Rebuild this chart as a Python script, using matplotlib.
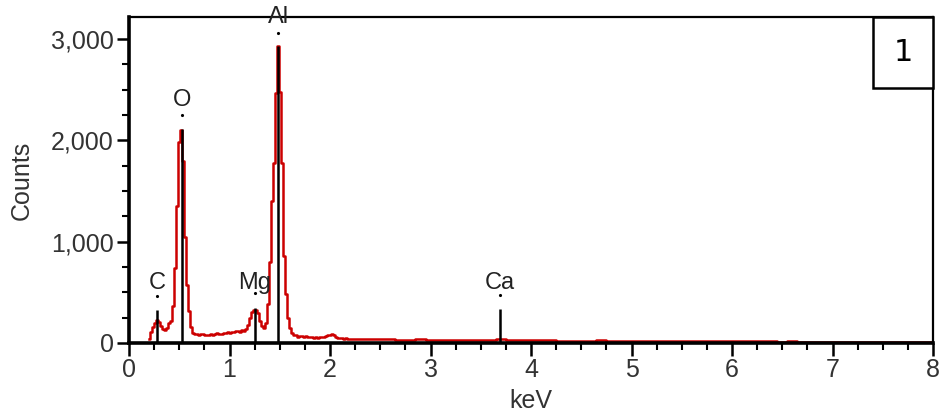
import matplotlib
matplotlib.use("Agg")
import matplotlib.pyplot as plt
from matplotlib.ticker import MultipleLocator
from matplotlib.patches import Rectangle
import numpy as np

plt.rcParams['font.family'] = ['Liberation Sans', 'DejaVu Sans']

# spectrum, fine part (0.02 keV channels)
energy_low = np.round(np.arange(0.20, 2.201, 0.02), 2)
counts_low = [
    40, 110, 160, 200, 230, 210, 170, 140, 130, 150,
    200, 220, 370, 740, 1350, 1980, 2100, 1800, 1050, 570,
    320, 160, 100, 90, 85, 80, 90, 85, 80, 82,
    78, 85, 80, 90, 95, 88, 92, 100, 95, 105,
    98, 110, 105, 115, 120, 110, 125, 115, 140, 180,
    250, 310, 330, 325, 300, 220, 170, 150, 200, 380,
    800, 1400, 1780, 2470, 2930, 2480, 1780, 860, 480, 250,
    150, 100, 80, 75, 60, 65, 70, 55, 65, 60,
    55, 55, 50, 55, 50, 55, 60, 55, 70, 75,
    80, 90, 75, 60, 50, 45, 45, 40, 45, 40,
    40,
]
# spectrum, tail (0.1 keV steps)
energy_high = np.round(np.arange(2.3, 8.001, 0.1), 2)
counts_high = [
    38, 36, 38, 35, 34, 33, 35, 32, 30, 31,
    30, 29, 30, 33, 35, 30, 28, 27, 26, 25,
    24, 23, 22, 24, 25, 22, 21, 20, 19, 20,
    18, 19, 18, 17, 18, 17, 16, 17, 16, 22,
    16, 15, 14, 15, 14, 13, 14, 13, 12, 13,
    12, 13, 12, 11, 12, 11, 10, 10,
]

# element markers
elements = ['C', 'O', 'Mg', 'Al', 'Ca']
element_kev = [0.277, 0.525, 1.254, 1.487, 3.69]
marker_height = [326, 2113, 345, 2930, 335]
label_y = [592, 2400, 592, 3215, 592]
dot_y = [464, 2250, 494, 3060, 474]

ytick_vals = [0, 1000, 2000, 3000]
ytick_labels = ['0', '1,000', '2,000', '3,000']

energy = np.concatenate([energy_low, energy_high])
counts = np.array(counts_low + counts_high)

fig = plt.figure(figsize=(9.44, 4.19), dpi=100)
ax = fig.add_axes([0.1367, 0.1814, 0.8517, 0.778])

ax.plot(energy, counts, color='#cc0000', lw=1.8, drawstyle='steps-mid', zorder=2)

for el, x, h, ly, dy in zip(elements, element_kev, marker_height, label_y, dot_y):
    ax.vlines(x, 0, h, color='black', lw=1.8, zorder=3)
    ax.text(x, ly, el, ha='center', va='center', fontsize=17, color='#222222',
            zorder=4, clip_on=False)
    ax.plot([x], [dy], marker='.', ms=2.5, color='black', zorder=4, clip_on=False)

ax.set_xlim(0, 8)
ax.set_ylim(0, 3217)
ax.set_yticks(ytick_vals)
ax.set_yticklabels(ytick_labels)
ax.xaxis.set_minor_locator(MultipleLocator(0.25))
ax.yaxis.set_minor_locator(MultipleLocator(250))
ax.tick_params(which='major', direction='out', length=9, width=1.8, labelsize=18,
               colors='black', labelcolor='#333333', pad=2)
ax.tick_params(which='minor', direction='out', length=5, width=1.5)

ax.set_xlabel('keV', fontsize=18, color='#333333', labelpad=5)
ax.set_ylabel('Counts', fontsize=18, color='#333333', labelpad=12)

for side in ['left', 'bottom']:
    ax.spines[side].set_linewidth(2.6)
for side in ['top', 'right']:
    ax.spines[side].set_linewidth(1.6)

# panel number box, tucked into the top right corner
box_w, box_h = 0.0746, 0.218
ax.add_patch(Rectangle((1 - box_w, 1 - box_h), box_w, box_h, transform=ax.transAxes,
                       facecolor='white', edgecolor='black', lw=1.8, zorder=5, clip_on=False))
ax.text(1 - box_w / 2, 1 - box_h / 2, '1', transform=ax.transAxes, ha='center', va='center',
        fontsize=22, family='DejaVu Sans', zorder=6)

fig.savefig('out.png', dpi=100)
